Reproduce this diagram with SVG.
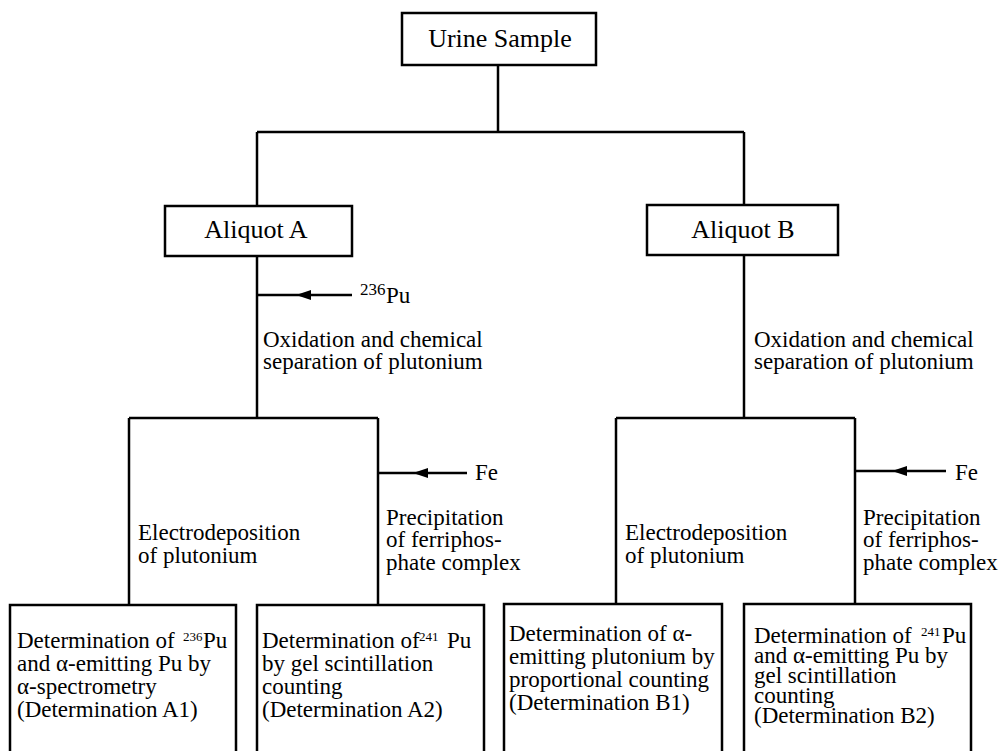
<svg xmlns="http://www.w3.org/2000/svg" width="999" height="751" viewBox="0 0 999 751" font-family="Liberation Serif, serif">
<style>
  .box { fill: #fff; stroke: #000; stroke-width: 2.5; }
  .open { fill: none; stroke: #000; stroke-width: 2.5; }
  .ln { fill: none; stroke: #000; stroke-width: 2.5; }
  .t { font-size: 26px; fill: #000; }
  .b { font-size: 23px; fill: #000; }
  .sup { font-size: 13px; }
  .sup2 { font-size: 17px; }
</style>
<rect width="999" height="751" fill="#fff"/>

<g id="connectors">
  <path class="ln" d="M498,65 V132"/>
  <path class="ln" d="M257,132 H744"/>
  <path class="ln" d="M257,132 V206"/>
  <path class="ln" d="M744,132 V205"/>
  <path class="ln" d="M257,256 V418"/>
  <path class="ln" d="M744,255 V418"/>
  <path class="ln" d="M129,418 H378"/>
  <path class="ln" d="M129,418 V605"/>
  <path class="ln" d="M378,418 V605"/>
  <path class="ln" d="M616,418 H855"/>
  <path class="ln" d="M616,418 V604"/>
  <path class="ln" d="M855,418 V604"/>
  <path class="ln" d="M352,295 H257"/>
  <path d="M296,295 L311,290 L311,300 Z" fill="#000"/>
  <path class="ln" d="M467,473 H378"/>
  <path d="M413,473 L428,468 L428,478 Z" fill="#000"/>
  <path class="ln" d="M946,471 H855"/>
  <path d="M892,471 L907,466 L907,476 Z" fill="#000"/>
</g>

<g id="urine">
  <rect class="box" x="402" y="13" width="194" height="52"/>
  <text class="t" x="500" y="47" text-anchor="middle">Urine Sample</text>
</g>

<g id="aliquotA">
  <rect class="box" x="165" y="206" width="187" height="50"/>
  <text class="t" x="256" y="238" text-anchor="middle">Aliquot A</text>
</g>

<g id="aliquotB">
  <rect class="box" x="647" y="205" width="191" height="50"/>
  <text class="t" x="743" y="238" text-anchor="middle">Aliquot B</text>
</g>

<g id="pu236">
  <text class="b" x="360" y="303"><tspan class="sup2" dy="-8">236</tspan><tspan x="386" dy="8">Pu</tspan></text>
</g>

<g id="oxA">
  <text class="b" x="263" y="347">Oxidation and chemical</text>
  <text class="b" x="263" y="369">separation of plutonium</text>
</g>

<g id="oxB">
  <text class="b" x="754" y="347">Oxidation and chemical</text>
  <text class="b" x="754" y="369">separation of plutonium</text>
</g>

<g id="feA">
  <text class="b" x="475" y="480">Fe</text>
</g>
<g id="feB">
  <text class="b" x="955" y="480">Fe</text>
</g>

<g id="electroA">
  <text class="b" x="138" y="540">Electrodeposition</text>
  <text class="b" x="138" y="563">of plutonium</text>
</g>
<g id="precipA">
  <text class="b" x="386" y="525">Precipitation</text>
  <text class="b" x="386" y="547">of ferriphos-</text>
  <text class="b" x="386" y="570">phate complex</text>
</g>
<g id="electroB">
  <text class="b" x="625" y="540">Electrodeposition</text>
  <text class="b" x="625" y="563">of plutonium</text>
</g>
<g id="precipB">
  <text class="b" x="863" y="525">Precipitation</text>
  <text class="b" x="863" y="547">of ferriphos-</text>
  <text class="b" x="863" y="570">phate complex</text>
</g>

<g id="A1">
  <path class="open" d="M10,753 V605 H236 V753"/>
  <text class="b" x="17" y="648">Determination of<tspan class="sup" x="183" dy="-7">236</tspan><tspan x="203" dy="7">Pu</tspan></text>
  <text class="b" x="17" y="671">and α-emitting Pu by</text>
  <text class="b" x="17" y="694">α-spectrometry</text>
  <text class="b" x="17" y="717">(Determination A1)</text>
</g>

<g id="A2">
  <path class="open" d="M257,753 V605 H484 V753"/>
  <text class="b" x="262" y="648">Determination of<tspan class="sup" x="419" dy="-7">241</tspan><tspan x="447" dy="7">Pu</tspan></text>
  <text class="b" x="262" y="671">by gel scintillation</text>
  <text class="b" x="262" y="694">counting</text>
  <text class="b" x="262" y="717">(Determination A2)</text>
</g>

<g id="B1">
  <path class="open" d="M504,753 V604 H722 V753"/>
  <text class="b" x="509" y="641">Determination of α-</text>
  <text class="b" x="509" y="664">emitting plutonium by</text>
  <text class="b" x="509" y="687">proportional counting</text>
  <text class="b" x="509" y="710">(Determination B1)</text>
</g>

<g id="B2">
  <path class="open" d="M744,753 V604 H971 V753"/>
  <text class="b" x="754" y="643">Determination of<tspan class="sup" x="921" dy="-7">241</tspan><tspan x="942" dy="7">Pu</tspan></text>
  <text class="b" x="754" y="663">and α-emitting Pu by</text>
  <text class="b" x="754" y="683">gel scintillation</text>
  <text class="b" x="754" y="703">counting</text>
  <text class="b" x="754" y="723">(Determination B2)</text>
</g>
</svg>
